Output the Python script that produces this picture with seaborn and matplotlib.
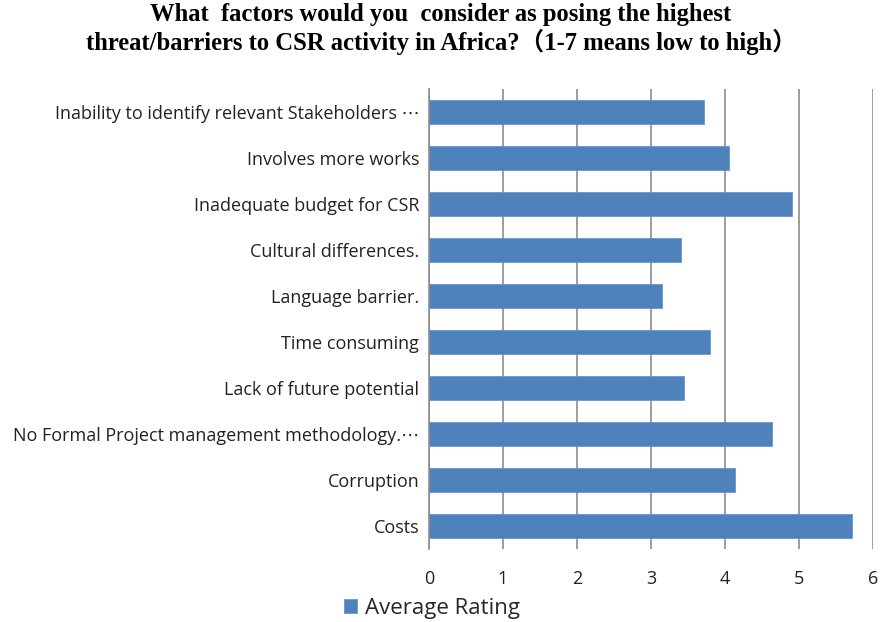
"""
Horizontal bar chart: perceived threats/barriers to CSR activity in Africa
"""

# imports
import pandas as pd
import matplotlib.pyplot as plt
import seaborn as sns

# data
factors = [
    "Inability to identify relevant Stakeholders \u22ef",
    "Involves more works",
    "Inadequate budget for CSR",
    "Cultural differences.",
    "Language barrier.",
    "Time consuming",
    "Lack of future potential",
    "No Formal Project management methodology.\u22ef",
    "Corruption",
    "Costs",
]
ratings = [3.71, 4.05, 4.91, 3.40, 3.15, 3.80, 3.45, 4.64, 4.14, 5.71]
x_ticks = [0, 1, 2, 3, 4, 5, 6]

# settings
BAR_COLOR = "#4F81BD"
LABEL_FONT = ["Open Sans", "DejaVu Sans"]


def main():
    df = pd.DataFrame({"factor": factors, "rating": ratings})

    sns.set_style("white")
    plt.rcParams["font.family"] = LABEL_FONT

    fig = plt.figure(figsize=[8.82, 6.22], dpi=100)
    ax = fig.add_axes([0.4864, 0.1174, 0.5034, 0.7396])

    sns.barplot(data=df, x="rating", y="factor", orient="h", color=BAR_COLOR,
                saturation=1, width=0.52, edgecolor="#6A97CE", linewidth=0.6,
                ax=ax)

    # axes styling
    ax.set_xlim(0, 6)
    ax.set_ylim(9.5, -0.5)
    ax.set_xticks(x_ticks)
    ax.set(xlabel="", ylabel="")
    ax.xaxis.grid(True, color="#8C8C8C", linewidth=1.2)
    ax.set_axisbelow(True)
    for side in ["top", "right", "bottom"]:
        ax.spines[side].set_visible(False)
    ax.spines["left"].set_color("#8C8C8C")
    ax.spines["left"].set_linewidth(1.2)
    ax.tick_params(axis="both", length=0, labelsize=13, colors="#222222")
    ax.tick_params(axis="x", pad=15)
    ax.tick_params(axis="y", pad=7)

    # title
    fig.text(0.5, 0.995,
             "What  factors would you  consider as posing the highest\n"
             "threat/barriers to CSR activity in Africa?\uff081-7 means low to high\uff09",
             ha="center", va="top", fontsize=17.7, fontweight="bold",
             color="black", family=["Liberation Serif", "Noto Sans CJK SC"],
             linespacing=1.15)

    # legend
    handle = ax.patches[0]
    fig.legend([handle], ["Average Rating"], loc="center left",
               bbox_to_anchor=(0.377, 0.022), frameon=False, fontsize=16,
               handlelength=0.6, handleheight=0.6, handletextpad=0.35,
               borderpad=0)

    fig.savefig("out.png", dpi=100)


if __name__ == "__main__":
    main()
